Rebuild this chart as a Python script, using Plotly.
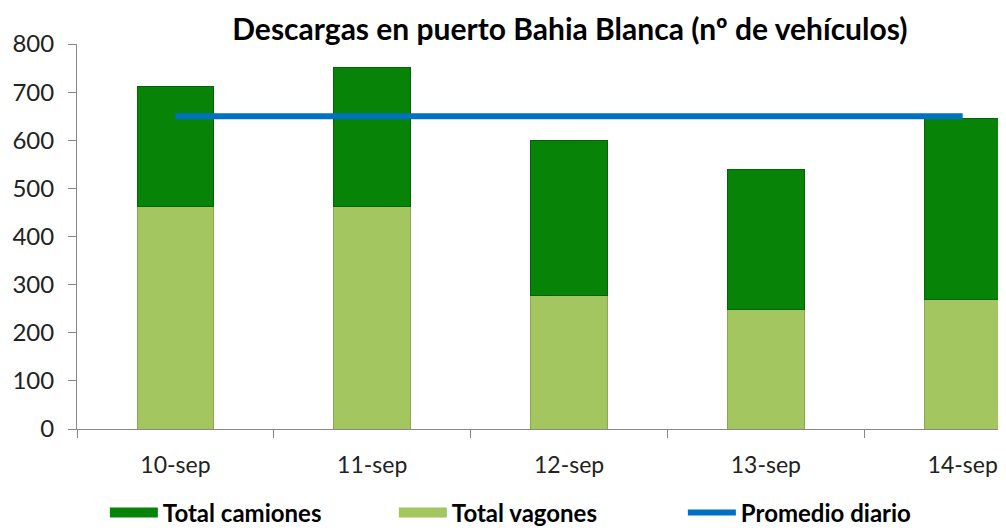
import plotly.graph_objects as go

categorias = ["10-sep", "11-sep", "12-sep", "13-sep", "14-sep"]
total_vagones = [462, 462, 277, 248, 270]
total_camiones = [250, 290, 323, 292, 375]
promedio_diario = [650, 650, 650, 650, 650]

FONT = "Lato, Open Sans, sans-serif"
C_CAM = "#078407"
C_VAG = "#a3c661"
C_PROM = "#0070c0"

fig = go.Figure()
fig.add_trace(go.Bar(
    x=categorias, y=total_vagones, name="Total vagones", showlegend=False,
    marker=dict(color=C_VAG, line=dict(color="#8aa84e", width=1)),
))
fig.add_trace(go.Bar(
    x=categorias, y=total_camiones, name="Total camiones", showlegend=False,
    marker=dict(color=C_CAM, line=dict(color="#056405", width=1)),
))
fig.add_trace(go.Scatter(
    x=categorias, y=promedio_diario, name="Promedio diario", showlegend=False,
    mode="lines", line=dict(color=C_PROM, width=6),
))
# legend-only entries (wide rectangular swatches like the original)
for nm, col, w in [("<b>Total camiones</b>", C_CAM, 14),
                   ("<b>Total vagones</b>", C_VAG, 14),
                   ("<b>Promedio diario</b>", C_PROM, 6)]:
    fig.add_trace(go.Scatter(x=[None], y=[None], name=nm, mode="lines",
                             line=dict(color=col, width=w), showlegend=True))

fig.update_layout(
    width=998, height=522,
    barmode="stack", bargap=0.61,
    paper_bgcolor="white", plot_bgcolor="white",
    margin=dict(l=69, r=0, t=36, b=101, autoexpand=False),
    title=dict(text="<b>Descargas en puerto Bahia Blanca (nº de vehículos)</b>",
               x=0.563, xanchor="center", y=0.958, yanchor="middle",
               font=dict(family=FONT, size=30, color="black")),
    font=dict(family=FONT, size=22, color="#222222"),
    showlegend=True,
    legend=dict(orientation="h", x=0.03, xanchor="left", y=-0.218, yanchor="middle",
                traceorder="normal",
                font=dict(family=FONT, size=24, color="black"),
                entrywidth=226, entrywidthmode="pixels", itemwidth=48),
    hovermode=False,
)
fig.update_xaxes(
    range=[-0.5, 4.22], showline=True, linecolor="#888888", linewidth=1,
    ticks="outside", ticklen=8, tickcolor="#888888", tickson="boundaries",
    showgrid=False, tickfont=dict(size=23, color="#222222"), ticklabelstandoff=15,
    automargin=False,
)
fig.update_yaxes(
    range=[0, 800], dtick=100, showline=True, linecolor="#888888", linewidth=1,
    ticks="outside", ticklen=8, tickcolor="#888888", showgrid=False, zeroline=False,
    tickfont=dict(size=24, color="#222222"), ticklabelstandoff=9,
    automargin=False,
)

fig.write_html("out.html")
